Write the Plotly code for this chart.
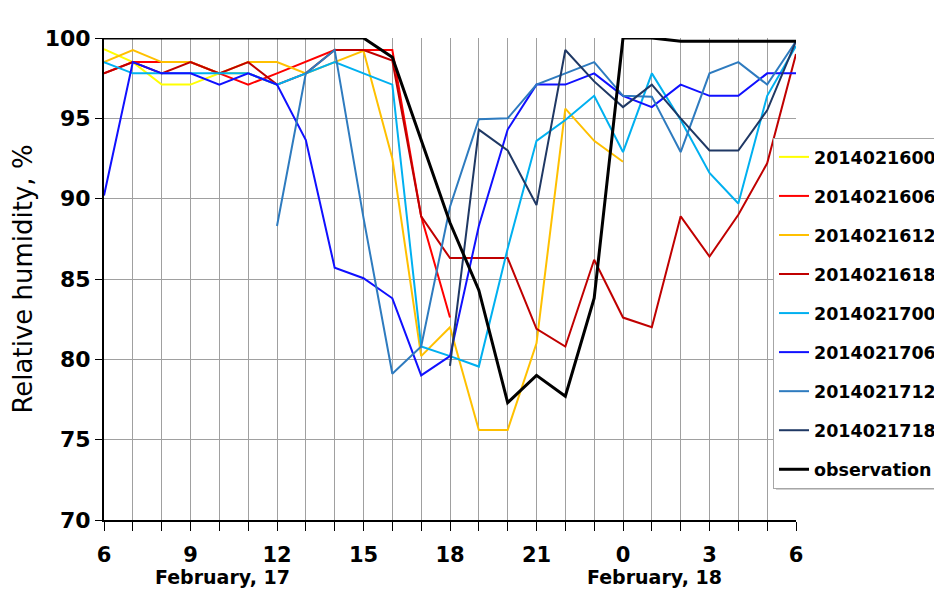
import plotly.graph_objects as go

# hour index 0 = 06 UTC Feb 17 ... 24 = 06 UTC Feb 18
hours = list(range(25))
tick_vals = [0, 3, 6, 9, 12, 15, 18, 21, 24]
tick_labels = ["6", "9", "12", "15", "18", "21", "0", "3", "6"]

run_2014021600 = [99.3, 98.5, 97.1, 97.1, 97.8, 97.8, 97.1] + [None] * 18
run_2014021606 = [97.8, 98.5, 98.5, 98.5, 97.8, 97.1, 97.8, 98.5, 99.25, 99.25,
                  99.25, 88.9, 82.6] + [None] * 12
run_2014021612 = [98.5, 99.25, 98.5, 98.5, 97.8, 98.5, 98.5, 97.8, 98.5, 99.2,
                  92.5, 80.2, 82.0, 75.6, 75.6, 81.0, 95.6, 93.6, 92.3] + [None] * 6
run_2014021618 = [97.8, 98.5, 97.8, 98.5, 97.8, 98.5, 97.1, 97.8, 99.25, 99.25,
                  98.6, 88.9, 86.3, 86.3, 86.3, 81.9, 80.8, 86.2, 82.6, 82.0,
                  88.9, 86.4, 89.0, 92.2, 99.0]
run_2014021700 = [98.5, 97.8, 97.8, 97.8, 97.8, 97.8, 97.1, 97.8, 98.5, 97.8,
                  97.1, 80.8, 80.2, 79.55, 86.9, 93.6, 94.9, 96.4, 92.9, 97.8,
                  94.9, 91.6, 89.7, 96.4, 99.5]
run_2014021706 = [90.2, 98.5, 97.8, 97.8, 97.1, 97.8, 97.1, 93.65, 85.7, 85.05,
                  83.8, 79.0, 80.2, 88.3, 94.3, 97.1, 97.1, 97.8, 96.4, 95.7,
                  97.1, 96.4, 96.4, 97.8, 97.8]
run_2014021712 = [None] * 6 + [88.3, 97.8, 99.25, 88.8, 79.1, 80.8, 89.5, 94.95,
                               95.0, 97.1, 97.8, 98.5, 96.4, 96.35, 92.9, 97.8,
                               98.5, 97.1, 99.8]
run_2014021718 = [None] * 12 + [79.6, 94.3, 93.0, 89.6, 99.25, 97.3, 95.7, 97.1,
                                95.0, 93.0, 93.0, 95.5, 99.8]
observation = [100] * 10 + [98.8, 93.6, 88.5, 84.3, 77.3, 79.0, 77.7, 83.8, 100,
                            100, 99.8, 99.8, 99.8, 99.8, 99.8]

series = [
    ("2014021600", run_2014021600, "#FFFF00", 2),
    ("2014021606", run_2014021606, "#FF0000", 2),
    ("2014021612", run_2014021612, "#FFC000", 2),
    ("2014021618", run_2014021618, "#C00000", 2),
    ("2014021700", run_2014021700, "#00B0F0", 2),
    ("2014021706", run_2014021706, "#1010FF", 2),
    ("2014021712", run_2014021712, "#2E7BBF", 2),
    ("2014021718", run_2014021718, "#1F3864", 2),
    ("observation", observation, "#000000", 3),
]

fig = go.Figure()
for name, vals, color, w in series:
    fig.add_trace(go.Scatter(x=hours, y=vals, mode="lines", name=name,
                             legendgroup=name,
                             line=dict(color=color, width=w),
                             connectgaps=False))

FONT = "DejaVu Sans"
grid = "#A0A0A0"

# page coordinates -> paper coordinates of the plot area (104..796, 38..520)
def px(x):
    return (x - 104) / 692

def py(y):
    return (520 - y) / 482

fig.update_layout(
    width=934, height=607,
    margin=dict(l=96, r=146, t=30, b=95, autoexpand=False),
    paper_bgcolor="white", plot_bgcolor="white",
    font=dict(family=FONT, color="black"),
    showlegend=True,
    legend=dict(x=px(773), y=py(138), xanchor="left", yanchor="top",
                bgcolor="white", bordercolor="#A6A6A6", borderwidth=1,
                font=dict(family=FONT, size=17.5, color="black", weight="bold"),
                tracegroupgap=13.3, itemwidth=30),
    xaxis=dict(range=[0, 24], tickmode="array", tickvals=tick_vals,
               ticktext=tick_labels, showgrid=True, gridcolor=grid, gridwidth=1,
               ticks="outside", ticklen=9, tickcolor="black", tickwidth=1,
               ticklabelstandoff=6, automargin=False,
               showline=True, linecolor="black", linewidth=2, zeroline=False,
               tickfont=dict(family=FONT, size=21, weight="bold"),
               minor=dict(tickmode="linear", tick0=0, dtick=1, ticks="outside",
                          ticklen=9, tickcolor="black", showgrid=True,
                          gridcolor=grid, gridwidth=1)),
    yaxis=dict(range=[70, 100], tickmode="linear", tick0=70, dtick=5,
               showgrid=True, gridcolor=grid, gridwidth=1, automargin=False,
               ticks="outside", ticklen=7, tickcolor="black",
               showline=True, linecolor="black", linewidth=2, zeroline=False,
               tickfont=dict(family=FONT, size=22, weight="bold"),
               title=dict(text="Relative humidity, %",
                          font=dict(family=FONT, size=26), standoff=8)),
    annotations=[
        dict(text="February, 17", x=4.1, y=py(577), xref="x", yref="paper",
             yanchor="middle", showarrow=False,
             font=dict(family=FONT, size=19, weight="bold")),
        dict(text="February, 18", x=19.1, y=py(577), xref="x", yref="paper",
             yanchor="middle", showarrow=False,
             font=dict(family=FONT, size=19, weight="bold")),
    ],
    shapes=[
        dict(type="rect", xref="paper", yref="paper",
             x0=px(776), x1=px(950), y0=py(490), y1=py(141),
             fillcolor="#D0D0D0", line=dict(width=0), layer="above"),
    ],
)

fig.write_html("out.html")
